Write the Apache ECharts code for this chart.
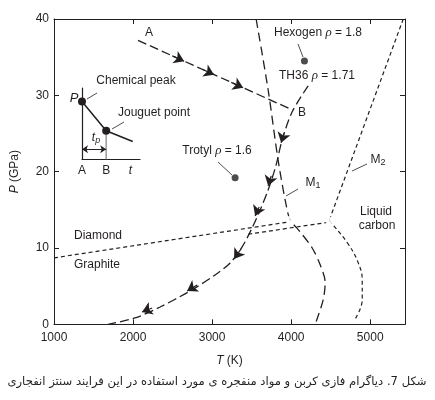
<!DOCTYPE html>
<html>
<head>
<meta charset="utf-8">
<script src="https://cdn.jsdelivr.net/npm/echarts@6/dist/echarts.min.js"></script>
<style>
  html, body { margin: 0; padding: 0; background: #fff; }
  #chart { width: 435px; height: 400px; }
</style>
</head>
<body>
<div id="chart"></div>
<script>
// values: T in K, P in GPa
const lineAB = [[2063, 37.2], [4013, 28.1]];
const th36 = [[4215, 31.25], [4013, 27.84], [3886, 24.17], [3810, 20.89], [3709, 17.61], [3608, 14.99],
  [3506, 12.63], [3380, 10.14], [3228, 8.04], [3038, 6.47], [2722, 4.37], [2342, 2.27], [2025, 0.83], [1684, 0]];
const meltM1 = [[3557, 40], [3709, 30.7], [3835, 21.5], [3937, 15.6], [3987, 13.7], [4114, 12.1],
  [4266, 10.0], [4367, 7.8], [4430, 5.5], [4405, 3.2], [4304, 0]];
const meltM2Upper = [[5418, 40], [4481, 13.6]];
const meltM2Lower = [[4481, 13.6], [4532, 13.0], [4709, 10.7], [4835, 8.4], [4899, 5.8], [4899, 3.2], [4810, 0.7]];
const diamondGraphite = [[1000, 8.7], [3962, 13.4]];
const branchLine = [[3456, 11.8], [4456, 13.35]];
const triplePoints = [[3987, 13.7], [4481, 13.6]];
const explosives = [[4168, 34.5], [3291, 19.2]]; // Hexogen, Trotyl

// arrow heads: [point just before, arrow point]
const abArrows = [[[2496, 35.17], [2646, 34.47]], [[2875, 33.41], [3025, 32.71]], [[3242, 31.7], [3392, 31.0]]];
const th36Arrows = [[[3911, 25.09], [3873, 23.78]], [[3747, 19.45], [3709, 18.14]], [[3595, 15.38], [3544, 14.2]],
  [[3367, 9.88], [3278, 8.56]], [[2810, 5.16], [2684, 4.37]], [[2241, 2.14], [2114, 1.61]]];

// inset sketch (pressure vs time)
const insetCurve = [[0, 0.81], [1, 0.40], [2.1, 0.25]];
const insetDots = 2;
const insetBLine = [[1, 0], [1, 0.40]];
const insetTp = [[0, 0.14], [1, 0.14]];
const insetTickLabels = { 0: 'A', 1: 'B', 2: '{i|t}' };

const ink = '#231f20';
const font = 'Arial, "Liberation Sans", Helvetica, sans-serif';

const chart = echarts.init(document.getElementById('chart'));

const dashed = (data, dash, width, smooth) => ({
  type: 'line', data, xAxisIndex: 0, yAxisIndex: 0, symbol: 'none', smooth: smooth || false,
  silent: true, lineStyle: { color: ink, width, type: dash }, z: 3
});

const arrows = (list) => ({
  type: 'lines', coordinateSystem: 'cartesian2d', xAxisIndex: 0, yAxisIndex: 0,
  symbol: ['none', 'arrow'], symbolSize: 10, silent: true,
  lineStyle: { color: ink, width: 1.2, type: 'solid', opacity: 1 },
  data: list.map(seg => ({ coords: seg })), z: 4
});

const rich = {
  i: { fontStyle: 'italic', fontSize: 12, fontFamily: font, fill: ink },
  r: { fontStyle: 'italic', fontSize: 13, fontFamily: '"Liberation Serif", serif', fill: ink },
  s: { fontSize: 9, fontFamily: font, verticalAlign: 'bottom', lineHeight: 14, fill: ink },
  si: { fontSize: 9, fontStyle: 'italic', fontFamily: font, verticalAlign: 'bottom', lineHeight: 14, fill: ink }
};

const label = (text, x, y, extra) => ({
  type: 'text', x, y, silent: true, z: 10,
  style: Object.assign({ text, fill: ink, fontSize: 12, fontFamily: font, align: 'center', verticalAlign: 'middle', rich }, extra)
});
const leader = (x1, y1, x2, y2) => ({
  type: 'line', silent: true, z: 10, shape: { x1, y1, x2, y2 }, style: { stroke: ink, lineWidth: 0.8 }
});

const frameAxis = {
  min: 1000, max: 5440, interval: 1000, type: 'value',
  axisLine: { show: true, onZero: false, lineStyle: { color: ink, width: 1 } },
  axisTick: { show: true, inside: true, length: 5, lineStyle: { color: ink } },
  splitLine: { show: false }
};
const frameYAxis = {
  min: 0, max: 40, interval: 10, type: 'value',
  axisLine: { show: true, lineStyle: { color: ink, width: 1 } },
  axisTick: { show: true, inside: true, length: 5, lineStyle: { color: ink } },
  splitLine: { show: false }
};

chart.setOption({
  animation: false,
  backgroundColor: '#fff',
  grid: [
    { left: 54, top: 19, width: 351, height: 305.3 },
    { left: 82, top: 88, width: 58, height: 71.3 }
  ],
  xAxis: [
    Object.assign({}, frameAxis, {
      gridIndex: 0, position: 'bottom',
      axisLabel: { color: ink, fontSize: 12, fontFamily: font, margin: 7,
        formatter: v => (v % 1000 === 0 ? String(v) : '') },
      name: '{i|T} (K)', nameLocation: 'middle', nameGap: 30,
      nameTextStyle: { color: ink, fontSize: 12, fontFamily: font, rich }
    }),
    Object.assign({}, frameAxis, { gridIndex: 0, position: 'top', axisLabel: { show: false } }),
    {
      gridIndex: 1, type: 'value', min: 0, max: 2.4, interval: 1,
      axisLine: { show: true, onZero: false, lineStyle: { color: ink, width: 1.2 } },
      axisTick: { show: false }, splitLine: { show: false },
      axisLabel: { color: ink, fontSize: 12, fontFamily: font, margin: 5, showMaxLabel: false,
        formatter: v => insetTickLabels[v] || '', rich }
    }
  ],
  yAxis: [
    Object.assign({}, frameYAxis, {
      gridIndex: 0, position: 'left',
      axisLabel: { color: ink, fontSize: 12, fontFamily: font, margin: 5 },
      name: '{i|P} (GPa)', nameLocation: 'middle', nameGap: 33,
      nameTextStyle: { color: ink, fontSize: 12, fontFamily: font, rich }
    }),
    Object.assign({}, frameYAxis, { gridIndex: 0, position: 'right', axisLabel: { show: false } }),
    {
      gridIndex: 1, type: 'value', min: 0, max: 1,
      axisLine: { show: true, onZero: false, lineStyle: { color: ink, width: 1.2 } },
      axisTick: { show: false }, splitLine: { show: false }, axisLabel: { show: false }
    }
  ],
  series: [
    dashed(diamondGraphite, [4, 3], 1.2),
    dashed(branchLine, [4, 3], 1.2),
    dashed(meltM2Upper, [4, 3], 1.2),
    dashed(meltM2Lower, [4, 3], 1.2, 0.4),
    dashed(meltM1, [9, 5], 1.3, 0.3),
    dashed(lineAB, [9, 4], 1.3),
    dashed(th36, [9, 4], 1.3, 0.3),
    arrows(abArrows),
    arrows(th36Arrows),
    {
      type: 'scatter', data: triplePoints, xAxisIndex: 0, yAxisIndex: 0, symbol: 'emptyCircle', symbolSize: 6,
      itemStyle: { color: '#fff', borderColor: ink, borderWidth: 1 }, silent: true, z: 5
    },
    {
      type: 'scatter', data: explosives, xAxisIndex: 0, yAxisIndex: 0, symbol: 'circle', symbolSize: 7,
      itemStyle: { color: ink }, silent: true, z: 5
    },
    // inset
    {
      type: 'line', xAxisIndex: 2, yAxisIndex: 2, silent: true, z: 6,
      data: insetCurve.map((p, i) => ({ value: p, symbol: i < insetDots ? 'circle' : 'none' })),
      symbolSize: 8, itemStyle: { color: ink }, lineStyle: { color: ink, width: 1.5 }
    },
    {
      type: 'line', xAxisIndex: 2, yAxisIndex: 2, silent: true, z: 5, data: insetBLine,
      symbol: 'none', lineStyle: { color: '#9a9a9a', width: 1.5 }
    },
    {
      type: 'lines', coordinateSystem: 'cartesian2d', xAxisIndex: 2, yAxisIndex: 2, silent: true, z: 6,
      symbol: ['arrow', 'arrow'], symbolSize: 6, lineStyle: { color: ink, width: 1, type: 'solid', opacity: 1 },
      data: [{ coords: insetTp }]
    }
  ],
  graphic: [
    label('A', 149, 33),
    label('B', 302, 113),
    label('Hexogen {r|ρ} = 1.8', 318, 33),
    leader(298, 44, 303, 57),
    label('TH36 {r|ρ} = 1.71', 317, 76),
    label('Trotyl {r|ρ} = 1.6', 217, 151),
    leader(218, 162, 232, 175),
    label('M{s|1}', 313, 183),
    leader(298, 189, 286, 196),
    label('M{s|2}', 378, 160),
    leader(367, 164, 352, 171),
    label('Liquid', 376, 212),
    label('carbon', 377, 226),
    label('Diamond', 98, 236),
    label('Graphite', 97, 265),
    label('P', 74, 98, { fontStyle: 'italic', fontSize: 13 }),
    label('Chemical peak', 136, 81),
    leader(87, 99, 97, 93),
    label('Jouguet point', 154, 113),
    leader(112, 129, 124, 122),
    label('{i|t}{si|p}', 96, 138),
    label('شکل 7. دیاگرام فازی کربن و مواد منفجره ی مورد استفاده در این فرایند سنتز انفجاری', 217, 382,
      { fontSize: 11.6, fontFamily: '"DejaVu Sans", sans-serif' })
  ]
});
</script>
</body>
</html>
